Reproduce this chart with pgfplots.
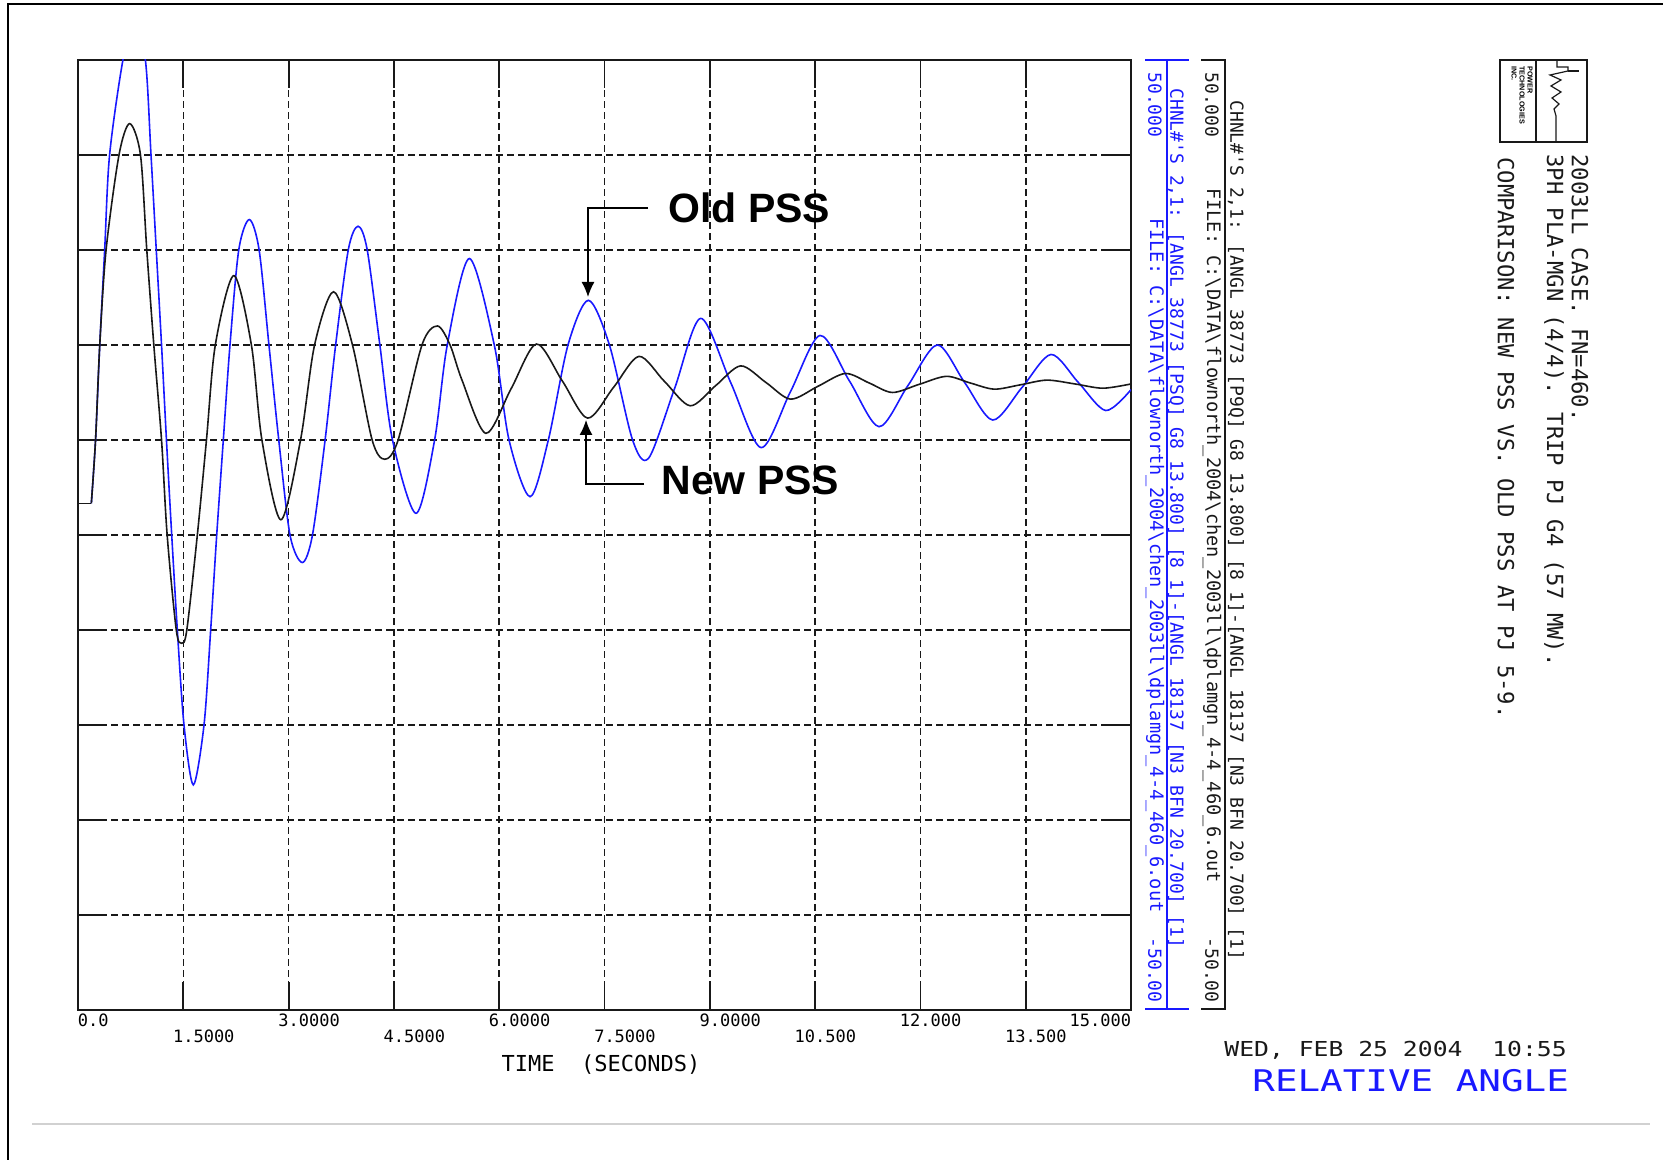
\documentclass[border=0pt]{standalone}
\usepackage{pgfplots}
\pgfplotsset{compat=1.18}
\usepackage{fontspec}
\usepackage{graphicx}
\usetikzlibrary{arrows.meta}
\setmainfont{Liberation Sans}
\newfontfamily\plotfont{DejaVu Sans Mono}[Ligatures=TeXOff]
\definecolor{plotblue}{RGB}{25,25,255}
\definecolor{plotblack}{RGB}{25,25,25}
% tick labels lined up on the decimal point, second row lowered
\newcommand\tlA[2]{\raisebox{0pt}[0pt][0pt]{\llap{#1}\rlap{#2}}}
\newcommand\tlB[2]{\raisebox{-8pt}[0pt][0pt]{\llap{#1}\rlap{#2}}}

\begin{document}
\begin{tikzpicture}
\useasboundingbox (0,0) rectangle (831.5pt,580pt);
\begin{axis}[
  at={(39pt,75pt)}, anchor=south west,
  width=526.5pt, height=475pt, scale only axis,
  xmin=0, xmax=15, ymin=-50, ymax=50,
  xtick={0,1.5,3,4.5,6,7.5,9,10.5,12,13.5,15},
  xticklabels={\tlA{}{0.0},\tlB{1}{.5000},\tlA{3}{.0000},\tlB{4}{.5000},\tlA{6}{.0000},\tlB{7}{.5000},\tlA{9}{.0000},\tlB{10}{.500},\tlA{12}{.000},\tlB{13}{.500},\tlA{15.000}{}},
  ytick={-40,-30,...,40},
  yticklabels={},
  grid=major,
  major grid style={dash pattern=on 3.5pt off 2pt, line width=0.8pt, color=plotblack},
  tick align=inside,
  major tick length=14pt,
  tick style={line width=0.9pt, color=plotblack},
  axis line style={line width=1pt, color=plotblack},
  xticklabel style={font=\plotfont\fontsize{8.5}{10}\selectfont, anchor=north, inner sep=1pt, yshift=-7pt},
]

% Old PSS
\addplot[plotblue, line width=0.8pt] coordinates {(0,3.33) (0.19,3.33)};
\addplot[plotblue, line width=0.8pt, smooth] coordinates {
  (0.19,3.33) (0.25,10) (0.31,20) (0.38,30) (0.45,40) (0.64,50)
  (0.80,54.1) (0.96,50) (1.04,40) (1.115,30) (1.19,20) (1.26,10) (1.335,0)
  (1.415,-10) (1.51,-20) (1.643,-26.3) (1.795,-20) (1.89,-10) (1.976,0)
  (2.07,10) (2.165,20) (2.29,30) (2.44,33.2) (2.58,30) (2.72,20) (2.86,10)
  (3.02,0) (3.195,-2.9) (3.34,0) (3.52,10) (3.67,20) (3.85,30) (3.99,32.5)
  (4.12,30) (4.30,20) (4.48,10) (4.815,2.28) (5.08,10) (5.26,20) (5.575,29.1)
  (5.93,20) (6.14,10) (6.44,4.03) (6.70,10) (6.98,20) (7.27,24.7) (7.57,20)
  (7.90,10) (8.13,8.1) (8.50,15.45) (8.87,22.8) (9.30,16.0) (9.73,9.2)
  (10.15,15.1) (10.57,21.0) (10.99,16.2) (11.41,11.4) (11.82,15.7) (12.24,20.0)
  (12.63,16.05) (13.03,12.1) (13.45,15.55) (13.86,19.0) (14.25,16.05)
  (14.64,13.1) (15.0,15.3)
};
% New PSS
\addplot[plotblack, line width=0.8pt] coordinates {(0,3.33) (0.19,3.33)};
\addplot[plotblack, line width=0.8pt, smooth] coordinates {
  (0.19,3.33) (0.25,10) (0.31,20) (0.40,30) (0.584,40) (0.736,43.3)
  (0.89,40) (0.98,30) (1.08,20) (1.19,10) (1.27,0) (1.40,-10) (1.477,-11.4)
  (1.55,-10) (1.70,0) (1.83,10) (1.956,20) (2.22,27.3) (2.47,20) (2.62,10)
  (2.89,1.6) (3.17,10) (3.37,20) (3.64,25.6) (3.91,20) (4.19,10) (4.37,7.97)
  (4.56,10) (4.90,20) (5.12,22.0) (5.30,20) (5.47,16.3) (5.81,10.7)
  (6.17,15.4) (6.53,20.1) (6.90,16.2) (7.26,12.3) (7.63,15.55) (7.99,18.8)
  (8.35,16.2) (8.72,13.6) (9.08,15.7) (9.44,17.8) (9.80,16.05) (10.15,14.3)
  (10.54,15.65) (10.93,17.0) (11.27,16.0) (11.60,15.0) (11.98,15.85)
  (12.37,16.7) (12.71,16.0) (13.05,15.35) (13.42,15.8) (13.80,16.3)
  (14.20,15.9) (14.60,15.45) (15.0,15.9)
};
\end{axis}

% page decorations, in pixel units of the reference (origin top left)
\begin{scope}[x=0.5pt, y=-0.5pt, yshift=580pt]
  \draw[line width=0.9pt] (8,1160) -- (8,4) -- (1663,4);
  \draw[black!18, line width=0.6pt] (32,1124) -- (1650,1124);

  \node[font=\plotfont\fontsize{11}{12}\selectfont, anchor=base, inner sep=0] at (601,1072) {TIME\ \ (SECONDS)};

  % blue channel block
  \draw[plotblue, line width=0.75pt] (1145,60) -- (1189,60) (1167,60) -- (1167,1009) (1145,1009) -- (1189,1009);
  \begin{scope}[plotblue, every node/.style={rotate=-90, inner sep=0, font=\plotfont\fontsize{9}{10}\selectfont}]
    \node[anchor=west] at (1155,72) {50.000};
    \node[anchor=east] at (1155,1003) {-50.00};
    \node[anchor=east, font=\plotfont\fontsize{9.3}{10}\selectfont] at (1155,913) {FILE: C:\textbackslash DATA\textbackslash flownorth\_2004\textbackslash chen\_2003ll\textbackslash dplamgn\_4-4\_460\_6.out};
    \node[anchor=west] at (1176,88) {CHNL\#'S 2,1: [ANGL 38773 [PSQ] G8 13.800] [8 1]-[ANGL 18137 [N3 BFN 20.700] [1]};
  \end{scope}

  % black channel block
  \draw[plotblack, line width=0.75pt] (1201,60) -- (1226,60) (1225,60) -- (1225,1009) (1201,1009) -- (1226,1009);
  \begin{scope}[plotblack, every node/.style={rotate=-90, inner sep=0, font=\plotfont\fontsize{9}{10}\selectfont}]
    \node[anchor=west] at (1212,72) {50.000};
    \node[anchor=east] at (1212,1003) {-50.00};
    \node[anchor=west, font=\plotfont\fontsize{9.3}{10}\selectfont] at (1212,188) {FILE: C:\textbackslash DATA\textbackslash flownorth\_2004\textbackslash chen\_2003ll\textbackslash dplamgn\_4-4\_460\_6.out};
    \node[anchor=west] at (1236,100) {CHNL\#'S 2,1: [ANGL 38773 [P9Q] G8 13.800] [8 1]-[ANGL 18137 [N3 BFN 20.700] [1]};
  \end{scope}

  % logo box
  \draw[plotblack, line width=0.8pt] (1500,60) rectangle (1587,142) (1536,60) -- (1536,142);
  \node[rotate=-90, anchor=north west, inner sep=0, align=left, font=\fontsize{3.6}{4}\selectfont\bfseries] at (1533,66) {POWER\\TECHNOLOGIES\\INC.};
  \draw[plotblack, line width=0.6pt] (1557,60) -- (1557,67) -- (1568,67) -- (1568,71)
    -- (1550,75) -- (1561,80) -- (1551,86) -- (1561,92) -- (1552,98) -- (1559,104)
    -- (1554,109) -- (1556,116) -- (1556,142);
  \draw[plotblack, line width=1.4pt] (1568,71) -- (1579,71);

  % title block
  \begin{scope}[plotblack, every node/.style={rotate=-90, anchor=west, inner sep=0, font=\plotfont\fontsize{11.1}{12}\selectfont}]
    \node at (1580,154) {2003LL CASE. FN=460.};
    \node at (1554,154) {3PH PLA-MGN (4/4). TRIP PJ G4 (57 MW).};
    \node at (1506,157) {COMPARISON: NEW PSS VS. OLD PSS AT PJ 5-9.};
  \end{scope}

  % date and quantity
  \node[anchor=base west, inner sep=0, text=plotblack, font=\plotfont\fontsize{10.3}{11}\selectfont] at (1224,1057) {\scalebox{1.2}[1]{WED, FEB 25 2004\ \ 10:55}};
  \node[anchor=base west, inner sep=0, text=plotblue, font=\plotfont\fontsize{14.9}{16}\selectfont] at (1252,1092) {\scalebox{1.26}[1]{RELATIVE ANGLE}};

  % annotations
  \draw[line width=0.65pt, -{Latex[length=7.5pt, width=6.5pt]}] (648,208) -- (588,208) -- (588,297);
  \draw[line width=0.65pt, -{Latex[length=7.5pt, width=6.5pt]}] (644,484) -- (586,484) -- (586,420);
  \node[anchor=base west, inner sep=0, font=\fontsize{20.5}{23}\selectfont\bfseries] at (668,222.5) {Old PSS};
  \node[anchor=base west, inner sep=0, font=\fontsize{20.5}{23}\selectfont\bfseries] at (661,495) {New PSS};
\end{scope}
\end{tikzpicture}
\end{document}
